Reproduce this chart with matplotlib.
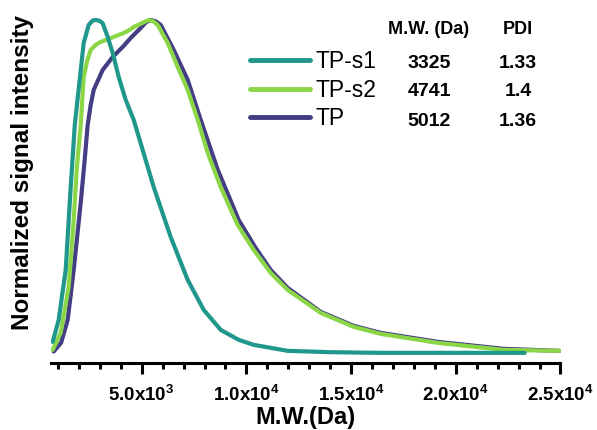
import matplotlib.pyplot as plt
from matplotlib.ticker import MultipleLocator, FixedLocator

plt.rcParams['font.family'] = ['Liberation Sans', 'DejaVu Sans']
plt.rcParams['mathtext.fontset'] = 'custom'
plt.rcParams['mathtext.rm'] = 'Liberation Sans:bold'
plt.rcParams['mathtext.bf'] = 'Liberation Sans:bold'
plt.rcParams['mathtext.it'] = 'Liberation Sans:bold'

# molecular weight (Da) and normalized intensity
mw_s1 = [750, 1036, 1371, 1610, 1805, 2039, 2230, 2469, 2650, 2804, 2980, 3138,
         3377, 3616, 3902, 4236, 4618, 5574, 6385, 7198, 7962, 8774, 9634,
         10350, 11974, 14000, 16415, 23292]
int_s1 = [0.033, 0.099, 0.249, 0.498, 0.685, 0.820, 0.931, 0.985, 0.998, 1.0, 0.998, 0.99,
          0.949, 0.901, 0.829, 0.760, 0.700, 0.498, 0.348, 0.219, 0.129, 0.069, 0.039,
          0.024, 0.006, 0.002, 0.0, 0.0]

mw_s2 = [750, 1132, 1514, 1753, 1896, 2087, 2230, 2400, 2565, 2800, 3042, 3663, 4141,
         4475, 4618, 5192, 5335, 5550, 5765, 6242, 6720, 7198, 7675, 8153, 8774,
         9585, 10350, 11162, 11974, 13550, 15126, 16415, 19137, 22289, 24950]
int_s2 = [0.009, 0.060, 0.198, 0.399, 0.550, 0.685, 0.829, 0.878, 0.910, 0.925, 0.934, 0.949,
          0.961, 0.972, 0.979, 0.996, 1.0, 0.996, 0.985, 0.931, 0.859, 0.790, 0.700, 0.601,
          0.498, 0.384, 0.309, 0.240, 0.189, 0.120, 0.078, 0.057, 0.030, 0.009, 0.006]

mw_tp = [798, 1150, 1466, 1753, 2087, 2278, 2421, 2565, 2708, 3138, 3616, 4093, 4475, 4618,
         4953, 5200, 5431, 5670, 5909, 6529, 7198, 7818, 8631, 9634, 10445, 11162,
         11974, 13550, 15126, 16415, 19137, 22289, 24950]
int_tp = [0.004, 0.03, 0.099, 0.249, 0.450, 0.580, 0.685, 0.745, 0.790, 0.850, 0.889, 0.919,
          0.946, 0.955, 0.976, 0.993, 1.0, 0.996, 0.985, 0.910, 0.820, 0.700, 0.550, 0.399,
          0.315, 0.249, 0.195, 0.123, 0.081, 0.060, 0.033, 0.012, 0.006]

labels = ['TP-s1', 'TP-s2', 'TP']
mw_values = ['3325', '4741', '5012']
pdi_values = ['1.33', '1.4', '1.36']
colors = ['#1f978b', '#8bd646', '#433d84']

fig = plt.figure(figsize=(5.97, 4.30), dpi=100)
ax = fig.add_axes([50.6 / 597, 1 - 362.5 / 430, (560.5 - 50.6) / 597, (362.5 - 15) / 430])

lw = 3.0
l_tp, = ax.plot(mw_tp, int_tp, color=colors[2], lw=lw, solid_capstyle='round',
                solid_joinstyle='round', zorder=2)
l_s2, = ax.plot(mw_s2, int_s2, color=colors[1], lw=lw, solid_capstyle='round',
                solid_joinstyle='round', zorder=3)
l_s1, = ax.plot(mw_s1, int_s1, color=colors[0], lw=lw, solid_capstyle='round',
                solid_joinstyle='round', zorder=4)

ax.set_xlim(650, 25000)
ax.set_ylim(-0.029, 1.015)

for s in ['left', 'top', 'right']:
    ax.spines[s].set_visible(False)
ax.spines['bottom'].set_linewidth(2.2)
ax.set_yticks([])

major = [5000, 10000, 15000, 20000, 25000]
major_labels = ['5.0x10$^{3}$', '1.0x10$^{4}$', '1.5x10$^{4}$', '2.0x10$^{4}$', '2.5x10$^{4}$']
ax.xaxis.set_major_locator(FixedLocator(major))
ax.set_xticklabels(major_labels, fontsize=13.5, fontweight='bold')
ax.xaxis.set_minor_locator(MultipleLocator(1000))
ax.tick_params(axis='x', which='major', length=8, width=2.2, pad=8)
ax.tick_params(axis='x', which='minor', length=4.5, width=2.2)

ax.set_xlabel('M.W.(Da)', fontsize=17, fontweight='bold', labelpad=1)
fig.text(23 / 597, 1 - 173 / 430, 'Normalized signal intensity', rotation=90,
         fontsize=17.5, fontweight='bold', ha='center', va='center')

leg = ax.legend([l_s1, l_s2, l_tp], labels, frameon=False, fontsize=16.5,
                loc='upper left', bbox_to_anchor=(250 / 597, 1 - 50 / 430),
                bbox_transform=fig.transFigure, borderpad=0, borderaxespad=0,
                handlelength=2.6, handletextpad=0.25, labelspacing=0.25)
for h in leg.get_lines():
    h.set_linewidth(3.5)

fig.text(429 / 597, 1 - 30 / 430, 'M.W. (Da)', fontsize=13, fontweight='bold',
         ha='center', va='center')
fig.text(518 / 597, 1 - 30 / 430, 'PDI', fontsize=13, fontweight='bold',
         ha='center', va='center')
row_y = [63, 92, 121]
for yy, mw, pdi in zip(row_y, mw_values, pdi_values):
    fig.text(429 / 597, 1 - yy / 430, mw, fontsize=14, fontweight='bold',
             ha='center', va='center')
    fig.text(518 / 597, 1 - yy / 430, pdi, fontsize=14, fontweight='bold',
             ha='center', va='center')

fig.savefig('out.png', dpi=100)
